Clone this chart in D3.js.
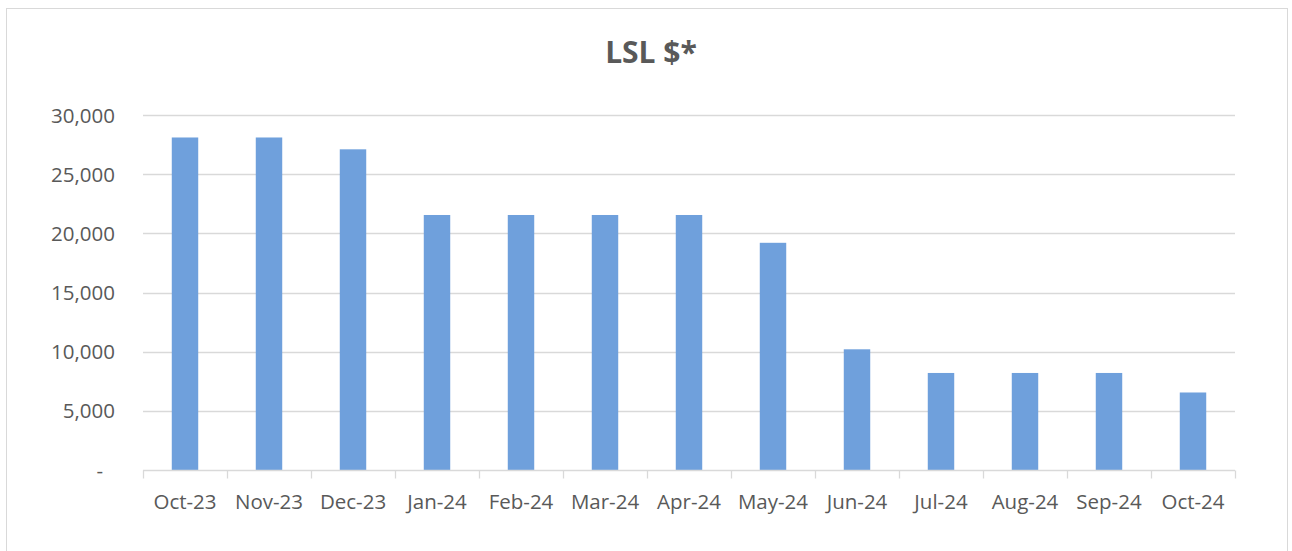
<!DOCTYPE html>
<html>
<head>
<meta charset="utf-8">
<script src="https://cdn.jsdelivr.net/npm/d3@7"></script>
<style>
  body { margin: 0; background: #fff; }
  svg { display: block; font-family: "Open Sans", "Liberation Sans", sans-serif; }
</style>
</head>
<body>
<svg id="chart" width="1292" height="551"></svg>
<script>
// chart data
const months = ["Oct-23", "Nov-23", "Dec-23", "Jan-24", "Feb-24", "Mar-24", "Apr-24",
                "May-24", "Jun-24", "Jul-24", "Aug-24", "Sep-24", "Oct-24"];
const lslValues = [28100, 28100, 27100, 21550, 21550, 21550, 21550,
                   19200, 10200, 8200, 8200, 8200, 6550];
const yTicks = [0, 5000, 10000, 15000, 20000, 25000, 30000];

const svg = d3.select("#chart");
const margin = { left: 143, right: 57, top: 115, bottom: 81 };
const width = 1292, height = 551;

// outer chart border
svg.append("rect")
    .attr("x", 6.5).attr("y", 8.5)
    .attr("width", 1281).attr("height", 560)
    .attr("fill", "#fff")
    .attr("stroke", "#d9d9d9");

svg.append("text")
    .attr("x", 651).attr("y", 63)
    .attr("text-anchor", "middle")
    .attr("font-size", 30)
    .attr("font-weight", "bold")
    .attr("fill", "#595959")
    .text("LSL $*");

const x = d3.scaleBand()
    .domain(months)
    .range([margin.left, width - margin.right])
    .paddingInner(0.685)
    .paddingOuter(0.3425);

const y = d3.scaleLinear()
    .domain([0, 30000])
    .range([height - margin.bottom, margin.top]);

// gridlines
svg.append("g")
    .selectAll("line")
    .data(yTicks.filter(d => d > 0))
    .join("line")
    .attr("x1", margin.left).attr("x2", width - margin.right)
    .attr("y1", d => Math.round(y(d)) + 0.5).attr("y2", d => Math.round(y(d)) + 0.5)
    .attr("stroke", "#d9d9d9")
    .attr("stroke-width", 1.3);

// y labels
const fmt = d3.format(",");
svg.append("g")
    .selectAll("text")
    .data(yTicks)
    .join("text")
    .attr("x", d => d === 0 ? 103 : 115)
    .attr("y", d => y(d) + 7.5)
    .attr("text-anchor", "end")
    .attr("font-size", 20.5)
    .attr("fill", "#595959")
    .text(d => d === 0 ? "-" : fmt(d));

// bars
svg.append("g")
    .selectAll("rect")
    .data(months.map((m, i) => ({ month: m, value: lslValues[i] })))
    .join("rect")
    .attr("x", d => x(d.month))
    .attr("y", d => y(d.value))
    .attr("width", x.bandwidth())
    .attr("height", d => y(0) - y(d.value))
    .attr("fill", "#6fa0dc");

// x axis line and ticks at band boundaries
const base = Math.round(y(0)) + 0.5;
svg.append("line")
    .attr("x1", margin.left).attr("x2", width - margin.right)
    .attr("y1", base).attr("y2", base)
    .attr("stroke", "#d9d9d9").attr("stroke-width", 1.3);

const step = x.step();
svg.append("g")
    .selectAll("line")
    .data(d3.range(months.length + 1))
    .join("line")
    .attr("x1", i => Math.round(margin.left + i * step) + 0.5)
    .attr("x2", i => Math.round(margin.left + i * step) + 0.5)
    .attr("y1", base).attr("y2", base + 8)
    .attr("stroke", "#d9d9d9").attr("stroke-width", 1.3);

// x labels
svg.append("g")
    .selectAll("text")
    .data(months)
    .join("text")
    .attr("x", d => x(d) + x.bandwidth() / 2)
    .attr("y", 509)
    .attr("text-anchor", "middle")
    .attr("font-size", 20.5)
    .attr("fill", "#595959")
    .text(d => d);
</script>
</body>
</html>
